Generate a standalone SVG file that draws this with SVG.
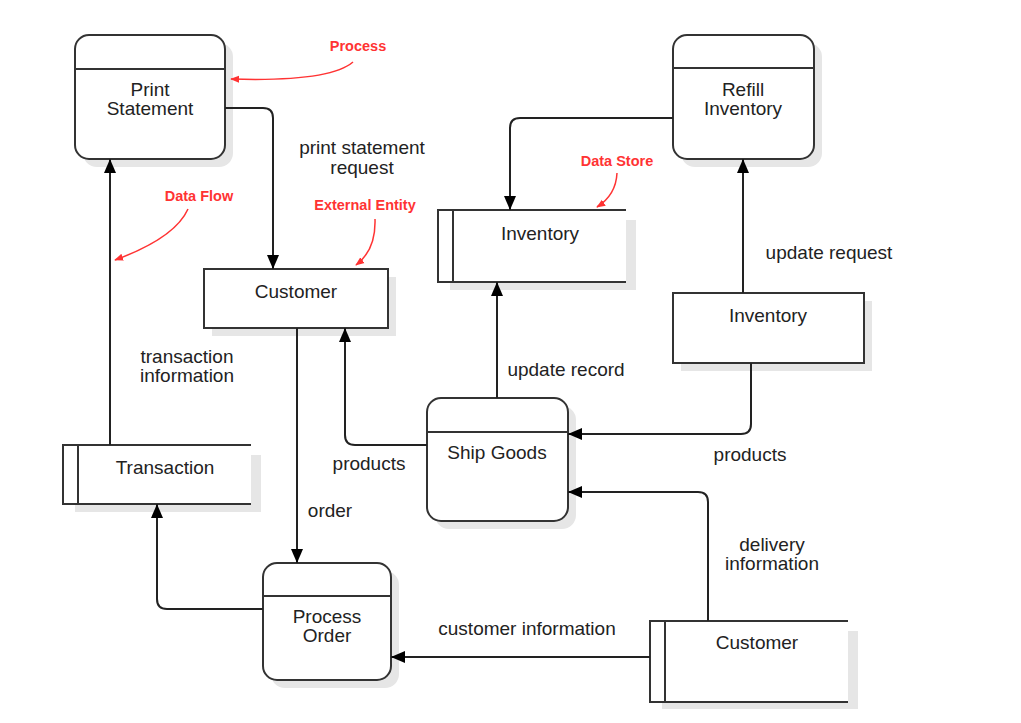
<svg xmlns="http://www.w3.org/2000/svg" width="1021" height="723" viewBox="0 0 1021 723">
<defs>
<marker id="arr" viewBox="0 0 14 12" refX="14" refY="6" markerWidth="14" markerHeight="12" markerUnits="userSpaceOnUse" orient="auto">
<path d="M0,0 L14,6 L0,12 Z" fill="#000"/>
</marker>
<marker id="rarr" viewBox="0 0 10 10" refX="9" refY="5" markerWidth="9" markerHeight="9" markerUnits="userSpaceOnUse" orient="auto">
<path d="M0,1 L10,5 L0,9 Z" fill="#ff3333"/>
</marker>
</defs>
<style>
.shadow{fill:#e6e6e6;stroke:none}
.box{fill:#fff;stroke:#333;stroke-width:2}
.line{fill:none;stroke:#333;stroke-width:2}
.conn{fill:none;stroke:#222;stroke-width:2;marker-end:url(#arr)}
.t{font-family:"Liberation Sans",Arial,sans-serif;font-size:19px;fill:#222;text-anchor:middle}
.r{font-family:"Liberation Sans",Arial,sans-serif;font-size:14.5px;font-weight:bold;fill:#ff3333;text-anchor:middle}
.ra{fill:none;stroke:#ff3333;stroke-width:1.5;marker-end:url(#rarr)}
</style>
<rect width="1021" height="723" fill="#fff"/>

<g id="print-statement">
<rect class="shadow" x="83" y="43" width="150" height="124" rx="14"/>
<rect class="box" x="75" y="35" width="150" height="124" rx="14"/>
<line class="line" x1="75" y1="69" x2="225" y2="69"/>
<text class="t" x="150" y="96">Print</text>
<text class="t" x="150" y="115">Statement</text>
</g>

<g id="refill-inventory">
<rect class="shadow" x="681" y="43" width="141" height="124" rx="14"/>
<rect class="box" x="673" y="35" width="141" height="124" rx="14"/>
<line class="line" x1="673" y1="68" x2="814" y2="68"/>
<text class="t" x="743" y="96">Refill</text>
<text class="t" x="743" y="115">Inventory</text>
</g>

<g id="inventory-store">
<rect class="shadow" x="450" y="220" width="186" height="70"/>
<rect x="438" y="210" width="188" height="72" fill="#fff"/>
<path class="line" d="M626,210 H438 V282 H626 M453,210 V282"/>
<text class="t" x="540" y="240">Inventory</text>
</g>

<g id="customer-top">
<rect class="shadow" x="212" y="277" width="184" height="59"/>
<rect class="box" x="204" y="269" width="184" height="59"/>
<text class="t" x="296" y="298">Customer</text>
</g>

<g id="inventory-entity">
<rect class="shadow" x="681" y="301" width="191" height="70"/>
<rect class="box" x="673" y="293" width="191" height="70"/>
<text class="t" x="768" y="322">Inventory</text>
</g>

<g id="transaction-store">
<rect class="shadow" x="75" y="455" width="186" height="57"/>
<rect x="63" y="445" width="188" height="59" fill="#fff"/>
<path class="line" d="M251,445 H63 V504 H251 M78,445 V504"/>
<text class="t" x="165" y="474">Transaction</text>
</g>

<g id="ship-goods">
<rect class="shadow" x="435" y="406" width="141" height="123" rx="14"/>
<rect class="box" x="427" y="398" width="141" height="123" rx="14"/>
<line class="line" x1="427" y1="432" x2="568" y2="432"/>
<text class="t" x="497" y="459">Ship Goods</text>
</g>

<g id="process-order">
<rect class="shadow" x="271" y="571" width="128" height="117" rx="14"/>
<rect class="box" x="263" y="563" width="128" height="117" rx="14"/>
<line class="line" x1="263" y1="596" x2="391" y2="596"/>
<text class="t" x="327" y="623">Process</text>
<text class="t" x="327" y="642">Order</text>
</g>

<g id="customer-store">
<rect class="shadow" x="662" y="631" width="196" height="78"/>
<rect x="650" y="621" width="198" height="81" fill="#fff"/>
<path class="line" d="M848,621 H650 V702 H848 M665,621 V702"/>
<text class="t" x="757" y="649">Customer</text>
</g>

<g id="connectors">
<path class="conn" d="M225,108 H263 Q273,108 273,118 V269"/>
<path class="conn" d="M110,445 V159"/>
<path class="conn" d="M297,328 V563"/>
<path class="conn" d="M263,609 H167 Q157,609 157,599 V504"/>
<path class="conn" d="M427,445 H355 Q345,445 345,435 V328"/>
<path class="conn" d="M497,398 V282"/>
<path class="conn" d="M673,118 H520 Q510,118 510,128 V210"/>
<path class="conn" d="M743,293 V159"/>
<path class="conn" d="M751,363 V424 Q751,434 741,434 H568"/>
<path class="conn" d="M708,621 V502 Q708,492 698,492 H568"/>
<path class="conn" d="M650,657 H391"/>
</g>

<g id="labels">
<text class="t" x="362" y="154">print statement</text>
<text class="t" x="362" y="174">request</text>
<text class="t" x="187" y="363">transaction</text>
<text class="t" x="187" y="382">information</text>
<text class="t" x="330" y="517">order</text>
<text class="t" x="369" y="470">products</text>
<text class="t" x="566" y="376">update record</text>
<text class="t" x="829" y="259">update request</text>
<text class="t" x="750" y="461">products</text>
<text class="t" x="772" y="551">delivery</text>
<text class="t" x="772" y="570">information</text>
<text class="t" x="527" y="635">customer information</text>
</g>

<g id="annotations">
<text class="r" x="358" y="51">Process</text>
<path class="ra" d="M353,62 Q330,82 231,79"/>
<text class="r" x="199" y="201">Data Flow</text>
<path class="ra" d="M188,209 Q175,238 115,260"/>
<text class="r" x="365" y="210">External Entity</text>
<path class="ra" d="M375,219 Q376,250 356,265"/>
<text class="r" x="617" y="166">Data Store</text>
<path class="ra" d="M617,173 Q616,195 597,207"/>
</g>
</svg>
